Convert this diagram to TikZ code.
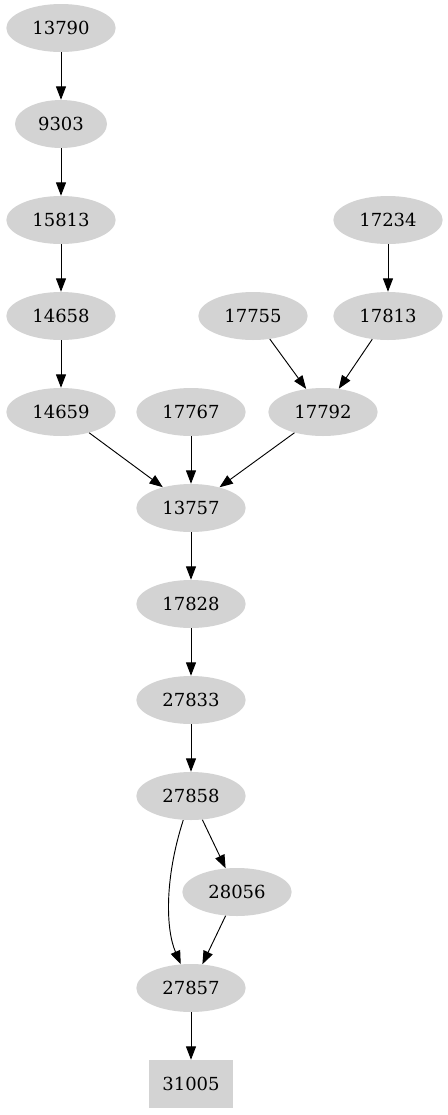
\documentclass[tikz,border=0pt]{standalone}
\usepackage{fontspec}
\setmainfont{DejaVu Serif}
\usetikzlibrary{arrows.meta,shapes.geometric}
\definecolor{gvgray}{HTML}{D3D3D3}
\tikzset{
  el/.style={ellipse, fill=gvgray, inner sep=0pt, minimum width=82pt, minimum height=36pt, font=\fontsize{13.5}{16}\selectfont},
  elsmall/.style={el, minimum width=69pt},
  bx/.style={rectangle, fill=gvgray, inner sep=0pt, minimum width=63pt, minimum height=36pt, font=\fontsize{13.5}{16}\selectfont},
  edge/.style={draw=black, line width=0.7pt, -{Triangle[length=10pt,width=7.5pt]}}
}
\begin{document}
\begin{tikzpicture}[x=0.75pt,y=-0.75pt]
\useasboundingbox (0,0) rectangle (447,1115);
\node[el] (n13790) at (61,28) {13790};
\node[elsmall] (n9303) at (61,124) {9303};
\node[el] (n15813) at (61,220) {15813};
\node[el] (n14658) at (61,316) {14658};
\node[el] (n14659) at (61,412) {14659};
\node[el] (n17234) at (388,220) {17234};
\node[el] (n17813) at (388,316) {17813};
\node[el] (n17755) at (253,316) {17755};
\node[el] (n17792) at (323,412) {17792};
\node[el] (n17767) at (191,412) {17767};
\node[el] (n13757) at (191,508) {13757};
\node[el] (n17828) at (191,604) {17828};
\node[el] (n27833) at (191,700) {27833};
\node[el] (n27858) at (191,796) {27858};
\node[el] (n28056) at (237,892) {28056};
\node[el] (n27857) at (191,988) {27857};
\node[bx] (n31005) at (191,1084) {31005};
\draw[edge] (n13790) -- (n9303);
\draw[edge] (n9303) -- (n15813);
\draw[edge] (n15813) -- (n14658);
\draw[edge] (n14658) -- (n14659);
\draw[edge] (n17234) -- (n17813);
\draw[edge] (n17755) -- (n17792);
\draw[edge] (n17813) -- (n17792);
\draw[edge] (n14659) -- (n13757);
\draw[edge] (n17767) -- (n13757);
\draw[edge] (n17792) -- (n13757);
\draw[edge] (n13757) -- (n17828);
\draw[edge] (n17828) -- (n27833);
\draw[edge] (n27833) -- (n27858);
\draw[edge] (n27858) -- (n28056);
\draw[edge] (n27858) .. controls (164,880) and (166,930) .. (n27857);
\draw[edge] (n28056) -- (n27857);
\draw[edge] (n27857) -- (n31005);
\end{tikzpicture}
\end{document}
